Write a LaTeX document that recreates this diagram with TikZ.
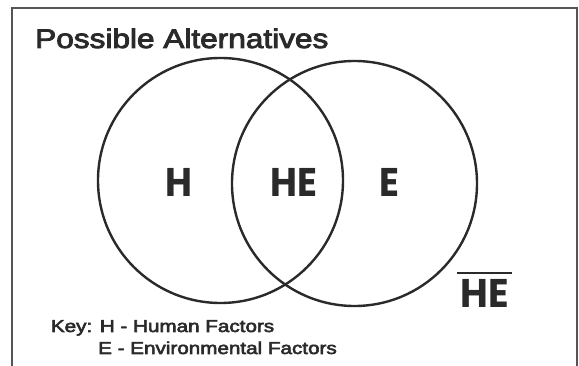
\documentclass[tikz,border=0pt]{standalone}
\usepackage{fontspec}
\setmainfont{Liberation Sans}
\newfontfamily\labelfont[FakeBold=3]{Liberation Sans}
\newfontfamily\setfont{Poppins Bold}
\definecolor{ink}{HTML}{2A2A2A}
\definecolor{framegrey}{HTML}{555555}
\begin{document}
\begin{tikzpicture}[x=1pt,y=-1pt,
  ring/.style={draw=ink,line width=2.4pt},
  settext/.style={inner sep=0pt,text=ink,font=\setfont\fontsize{40}{40}\selectfont},
  keytext/.style={inner sep=0pt,anchor=base west,text=ink,font=\labelfont\fontsize{17.2}{17.2}\selectfont}]
  \useasboundingbox (0,0) rectangle (579,366);
  \fill[white] (0,0) rectangle (579,366);
  % open frame
  \draw[framegrey,line width=2.4pt] (12,367) -- (12,8) -- (577,8) -- (577,367);
  % title
  \node[inner sep=0pt,anchor=base west,text=ink,font=\labelfont\fontsize{27}{27}\selectfont] (title) at (35,48) {\scalebox{1.17}[1]{Possible Alternatives}};
  % the two sets
  \node[ring,circle,minimum size=245pt,inner sep=0pt] (human) at (220.5,180.5) {};
  \node[ring,circle,minimum size=245pt,inner sep=0pt] (env) at (354.5,183.5) {};
  % region labels
  \node[settext,anchor=base] (h) at (179,197) {\scalebox{0.92}[1]{H}};
  \node[settext,anchor=base] (he) at (294,197) {\scalebox{0.92}[1]{HE}};
  \node[settext,anchor=base] (e) at (389.5,197) {\scalebox{0.92}[1]{E}};
  \node[settext,anchor=base] (none) at (484.5,308) {\scalebox{0.95}[1]{HE}};
  % complement bar over the outside label
  \draw[ink,line width=2.2pt] ([xshift=-3pt,yshift=35pt]none.base west) -- ([xshift=3pt,yshift=35pt]none.base east);
  % key
  \node[keytext] (key1) at (50.7,332) {\scalebox{1.2}[1]{Key: H - Human Factors}};
  \node[keytext] (key2) at (98,354) {\scalebox{1.2}[1]{E - Environmental Factors}};
\end{tikzpicture}
\end{document}
